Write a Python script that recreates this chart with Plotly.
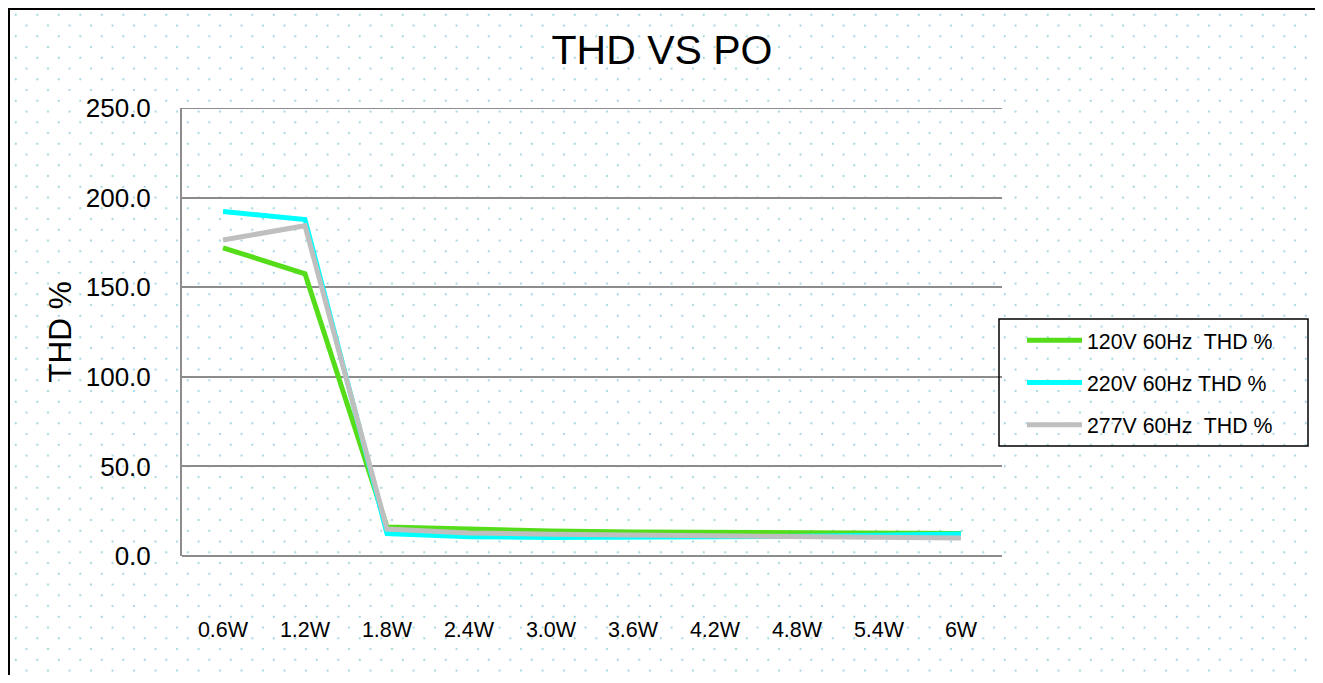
import base64
import plotly.graph_objects as go

# ---------------- data ----------------
categories = ["0.6W", "1.2W", "1.8W", "2.4W", "3.0W", "3.6W", "4.2W", "4.8W", "5.4W", "6W"]
thd_120v = [172.0, 157.5, 16.2, 14.8, 13.9, 13.4, 13.2, 13.0, 12.8, 12.6]
thd_220v = [192.2, 187.8, 12.5, 10.8, 10.3, 10.4, 10.6, 11.0, 11.6, 12.3]
thd_277v = [176.3, 184.3, 15.0, 12.9, 12.2, 11.8, 11.5, 11.2, 10.6, 10.0]
series_names = ["120V 60Hz\u00a0 THD %", "220V 60Hz THD %", "277V 60Hz\u00a0 THD %"]
series_colors = ["#55DD1A", "#00FFFF", "#BFBFBF"]
y_tick_values = [0, 50, 100, 150, 200, 250]
title_text = "THD VS PO"
y_title = "THD %"

# ---------------- geometry (screen px; page body has an 8px margin) ----------------
OFF = 8
W, H = 1315, 667
PLOT_L, PLOT_R, PLOT_T, PLOT_B = 182, 1002, 108, 556   # screen coords of plot area
L = PLOT_L - OFF
T = PLOT_T - OFF
R = W - (PLOT_R - OFF)
B = H - (PLOT_B - OFF)
PW, PH = W - L - R, H - T - B
FONT = "Liberation Sans, Arial, sans-serif"


def sx(px):
    return (px - OFF - L) / PW


def sy(py):
    return (T + PH - (py - OFF)) / PH


# dotted background texture (decoration) as an inline SVG image
bx0, by0, bx1, by1 = 10, 9, 1317, 675   # screen coords
bw, bh = bx1 - bx0, by1 - by0
svg = (
    f'<svg xmlns="http://www.w3.org/2000/svg" width="{bw}" height="{bh}" viewBox="0 0 {bw} {bh}">'
    '<defs><pattern id="p" patternUnits="userSpaceOnUse" width="21.5" height="21.5" x="0" y="0">'
    '<circle cx="16.5" cy="16.5" r="1.1" fill="#9ed3de"/>'
    '<circle cx="5.75" cy="5.75" r="1.1" fill="#9ed3de"/>'
    '</pattern></defs>'
    f'<rect x="0" y="0" width="{bw}" height="{bh}" fill="url(#p)"/></svg>'
)
svg_uri = "data:image/svg+xml;base64," + base64.b64encode(svg.encode()).decode()

fig = go.Figure()
for name, vals, col in zip(series_names, [thd_120v, thd_220v, thd_277v], series_colors):
    fig.add_trace(go.Scatter(
        x=categories, y=vals, name=name, mode="lines",
        line=dict(color=col, width=5), legendgroup=name,
    ))

fig.update_layout(
    width=W, height=H,
    margin=dict(l=L, r=R, t=T, b=B, autoexpand=False),
    paper_bgcolor="white",
    plot_bgcolor="rgba(0,0,0,0)",
    font=dict(family=FONT, color="black"),
    title=dict(text=title_text, x=(662 - OFF) / W, xref="container", xanchor="center",
               y=1 - (49.5 - OFF) / H, yanchor="middle", font=dict(size=41, family=FONT)),
    showlegend=True,
    legend=dict(
        x=sx(1022), y=sy(320), xanchor="left", yanchor="top",
        bgcolor="rgba(0,0,0,0)", borderwidth=0,
        font=dict(size=21.3, family=FONT), itemwidth=55, tracegroupgap=11.5,
    ),
    xaxis=dict(
        type="category", range=[-0.5, 9.5], showgrid=False, zeroline=False,
        showline=False, ticks="", tickfont=dict(size=21.5, family=FONT),
        ticklabelstandoff=58, fixedrange=True,
    ),
    yaxis=dict(
        range=[0, 250], tickvals=y_tick_values, tickformat=".1f",
        showgrid=True, gridcolor="#8c8c8c", gridwidth=2,
        zeroline=True, zerolinecolor="#8c8c8c", zerolinewidth=2,
        showline=True, linecolor="#8c8c8c", linewidth=2,
        ticks="", tickfont=dict(size=26, family=FONT), ticklabelstandoff=24,
        title=dict(text=y_title, font=dict(size=31.5, family=FONT), standoff=5),
        fixedrange=True,
    ),
    images=[dict(
        source=svg_uri, xref="paper", yref="paper",
        x=sx(bx0), y=sy(by0), sizex=bw / PW, sizey=bh / PH,
        xanchor="left", yanchor="top", sizing="stretch", layer="below",
    )],
    shapes=[
        # outer chart border
        dict(type="rect", xref="paper", yref="paper",
             x0=sx(OFF + 1), x1=sx(1318), y0=sy(700), y1=sy(OFF + 1),
             line=dict(color="black", width=2), fillcolor="rgba(0,0,0,0)", layer="above"),
        # legend frame
        dict(type="rect", xref="paper", yref="paper",
             x0=sx(999), x1=sx(1308), y0=sy(446), y1=sy(319),
             line=dict(color="black", width=1.5), fillcolor="rgba(0,0,0,0)", layer="above"),
        # top gridline at 250
        dict(type="line", xref="paper", yref="y", x0=0, x1=1, y0=250, y1=250,
             line=dict(color="#8c8c8c", width=2), layer="below"),
    ],
)

fig.write_html("out.html")
